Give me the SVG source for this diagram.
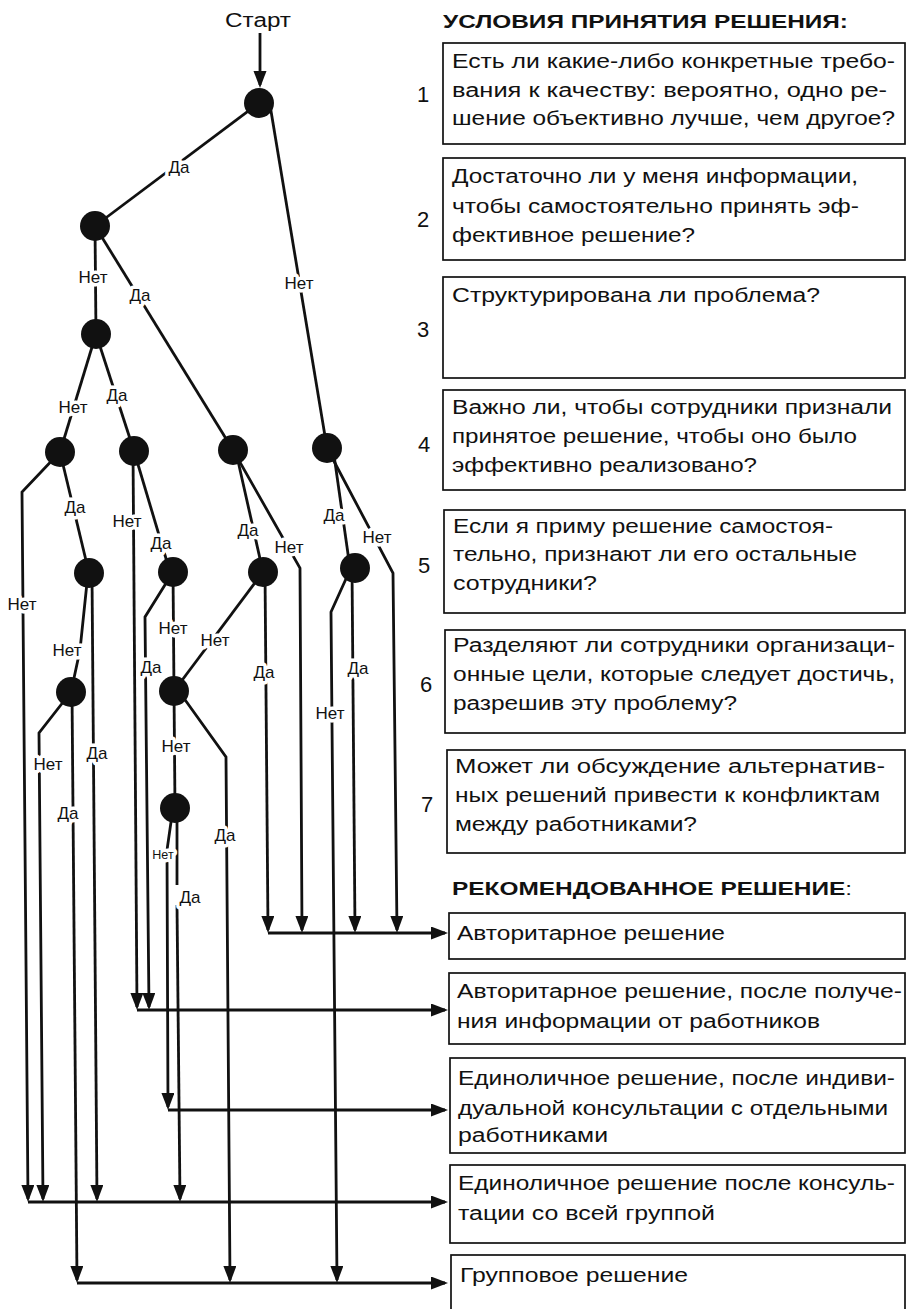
<svg xmlns="http://www.w3.org/2000/svg" width="907" height="1309" viewBox="0 0 907 1309">
<style>
.c{fill:none;stroke:#111;stroke-width:2.8;stroke-linejoin:miter}
.a{marker-end:url(#ah)}
.nd{fill:#111}
.lb{font-family:"Liberation Sans",Arial,sans-serif;font-size:17px;fill:#111;text-anchor:middle;stroke:#fff;stroke-width:7px;paint-order:stroke;stroke-linejoin:round}
.sm{font-size:12.5px}
.bx{fill:none;stroke:#111;stroke-width:1.7}
.t{font-family:"Liberation Sans",Arial,sans-serif;font-size:19.5px;fill:#111}
.h{font-family:"Liberation Sans",Arial,sans-serif;font-size:19px;font-weight:bold;fill:#111}
.num{font-family:"Liberation Sans",Arial,sans-serif;font-size:22px;fill:#111;text-anchor:middle}
.st{font-family:"Liberation Sans",Arial,sans-serif;font-size:20px;fill:#111;text-anchor:middle}
</style>
<defs>
<marker id="ah" markerUnits="userSpaceOnUse" markerWidth="18" markerHeight="14" refX="14" refY="6.5" orient="auto"><path d="M0,0 L17,6.5 L0,13 z" fill="#111"/></marker>
</defs>
<rect x="0" y="0" width="907" height="1309" fill="#fff"/>

<text class="st" x="258" y="27" textLength="66" lengthAdjust="spacingAndGlyphs">Старт</text>

<g id="connectors">
<path class="c a" d="M260,33 V85"/>
<path class="c" d="M259,103 L95,226"/>
<path class="c" d="M270,105 L327,448"/>
<path class="c" d="M95,226 L96,334"/>
<path class="c" d="M95,226 L233,450"/>
<path class="c" d="M96,334 L60,452"/>
<path class="c" d="M96,334 L134,451"/>
<path class="c a" d="M60,452 L22,492 L28,1199"/>
<path class="c" d="M60,452 L89,573"/>
<path class="c" d="M88,573 L80,650 L71,692"/>
<path class="c a" d="M92,575 L97,1199"/>
<path class="c a" d="M71,692 L39,733 L43,1199"/>
<path class="c a" d="M72,692 L77,1280"/>
<path class="c a" d="M133,451 L137,1007"/>
<path class="c" d="M134,451 L170,572"/>
<path class="c a" d="M173,572 L145,617 L149,1007"/>
<path class="c" d="M173,572 L174,691"/>
<path class="c" d="M236,452 L263,572"/>
<path class="c a" d="M233,450 L300,568 L302,930"/>
<path class="c" d="M263,572 L174,691"/>
<path class="c a" d="M265,572 L268,930"/>
<path class="c" d="M333,448 L350,568"/>
<path class="c a" d="M327,448 L393,573 L397,930"/>
<path class="c a" d="M350,570 L331,612 L337,1280"/>
<path class="c a" d="M352,568 L355,930"/>
<path class="c" d="M174,691 L175,808"/>
<path class="c a" d="M178,690 L226,757 L230,1280"/>
<path class="c a" d="M173,808 L167,850 L168,1107"/>
<path class="c" d="M177,808 V885"/>
<path class="c a" d="M177,905 L180,1199"/>

<path class="c a" d="M268,933 L445,933"/>
<path class="c a" d="M137,1010 L445,1010"/>
<path class="c a" d="M168,1110 L445,1110"/>
<path class="c a" d="M28,1202 L445,1202"/>
<path class="c a" d="M77,1283 L445,1283"/>

<text class="lb" x="179" y="173">Да</text>
<text class="lb" x="299" y="289">Нет</text>
<text class="lb" x="93" y="283">Нет</text>
<text class="lb" x="140" y="301">Да</text>
<text class="lb" x="73" y="413">Нет</text>
<text class="lb" x="117" y="401">Да</text>
<text class="lb" x="22" y="610">Нет</text>
<text class="lb" x="75" y="513">Да</text>
<text class="lb" x="67" y="656">Нет</text>
<text class="lb" x="97" y="759">Да</text>
<text class="lb" x="48" y="770">Нет</text>
<text class="lb" x="68" y="819">Да</text>
<text class="lb" x="127" y="527">Нет</text>
<text class="lb" x="161" y="549">Да</text>
<text class="lb" x="151" y="673">Да</text>
<text class="lb" x="173" y="634">Нет</text>
<text class="lb" x="215" y="646">Нет</text>
<text class="lb" x="264" y="678">Да</text>
<text class="lb" x="248" y="536">Да</text>
<text class="lb" x="289" y="553">Нет</text>
<text class="lb" x="334" y="521">Да</text>
<text class="lb" x="377" y="543">Нет</text>
<text class="lb" x="330" y="719">Нет</text>
<text class="lb" x="358" y="674">Да</text>
<text class="lb" x="176" y="752">Нет</text>
<text class="lb" x="225" y="841">Да</text>
<text class="lb sm" x="163" y="859">Нет</text>
<text class="lb" x="190" y="903">Да</text>
</g>

<g id="n1"><circle class="nd" cx="259" cy="103" r="15"/></g>
<g id="n2"><circle class="nd" cx="95" cy="226" r="15"/></g>
<g id="n3"><circle class="nd" cx="96" cy="334" r="15"/></g>
<g id="n4"><circle class="nd" cx="60" cy="452" r="15"/></g>
<g id="n5"><circle class="nd" cx="134" cy="451" r="15"/></g>
<g id="n6"><circle class="nd" cx="233" cy="450" r="15"/></g>
<g id="n7"><circle class="nd" cx="327" cy="448" r="15"/></g>
<g id="n8"><circle class="nd" cx="89" cy="573" r="15"/></g>
<g id="n10"><circle class="nd" cx="173" cy="572" r="15"/></g>
<g id="n12"><circle class="nd" cx="263" cy="572" r="15"/></g>
<g id="n14"><circle class="nd" cx="355" cy="568" r="15"/></g>
<g id="n9"><circle class="nd" cx="71" cy="692" r="15"/></g>
<g id="n11"><circle class="nd" cx="174" cy="691" r="15"/></g>
<g id="n13"><circle class="nd" cx="175" cy="808" r="15"/></g>

<text class="h" x="443" y="28" textLength="405" lengthAdjust="spacingAndGlyphs">УСЛОВИЯ ПРИНЯТИЯ РЕШЕНИЯ:</text>

<g id="cond1">
<text class="num" x="423" y="102">1</text>
<rect class="bx" x="443" y="43" width="462" height="101"/>
<text class="t" x="452" y="68" textLength="443" lengthAdjust="spacingAndGlyphs">Есть ли какие-либо конкретные требо-</text>
<text class="t" x="452" y="97" textLength="435" lengthAdjust="spacingAndGlyphs">вания к качеству: вероятно, одно ре-</text>
<text class="t" x="452" y="125" textLength="443" lengthAdjust="spacingAndGlyphs">шение объективно лучше, чем другое?</text>
</g>
<g id="cond2">
<text class="num" x="423" y="227">2</text>
<rect class="bx" x="443" y="158" width="462" height="102"/>
<text class="t" x="452" y="183" textLength="406" lengthAdjust="spacingAndGlyphs">Достаточно ли у меня информации,</text>
<text class="t" x="452" y="213" textLength="407" lengthAdjust="spacingAndGlyphs">чтобы самостоятельно принять эф-</text>
<text class="t" x="452" y="242" textLength="243" lengthAdjust="spacingAndGlyphs">фективное решение?</text>
</g>
<g id="cond3">
<text class="num" x="423" y="337">3</text>
<rect class="bx" x="443" y="277" width="462" height="101"/>
<text class="t" x="452" y="302" textLength="368" lengthAdjust="spacingAndGlyphs">Структурирована ли проблема?</text>
</g>
<g id="cond4">
<text class="num" x="424" y="452">4</text>
<rect class="bx" x="443" y="390" width="462" height="100"/>
<text class="t" x="452" y="414" textLength="440" lengthAdjust="spacingAndGlyphs">Важно ли, чтобы сотрудники признали</text>
<text class="t" x="452" y="443" textLength="405" lengthAdjust="spacingAndGlyphs">принятое решение, чтобы оно было</text>
<text class="t" x="452" y="472" textLength="305" lengthAdjust="spacingAndGlyphs">эффективно реализовано?</text>
</g>
<g id="cond5">
<text class="num" x="424" y="573">5</text>
<rect class="bx" x="444" y="510" width="461" height="103"/>
<text class="t" x="453" y="533" textLength="380" lengthAdjust="spacingAndGlyphs">Если я приму решение самостоя-</text>
<text class="t" x="453" y="561" textLength="404" lengthAdjust="spacingAndGlyphs">тельно, признают ли его остальные</text>
<text class="t" x="453" y="590" textLength="144" lengthAdjust="spacingAndGlyphs">сотрудники?</text>
</g>
<g id="cond6">
<text class="num" x="426" y="692">6</text>
<rect class="bx" x="445" y="630" width="460" height="103"/>
<text class="t" x="453" y="652" textLength="442" lengthAdjust="spacingAndGlyphs">Разделяют ли сотрудники организаци-</text>
<text class="t" x="453" y="681" textLength="442" lengthAdjust="spacingAndGlyphs">онные цели, которые следует достичь,</text>
<text class="t" x="453" y="710" textLength="284" lengthAdjust="spacingAndGlyphs">разрешив эту проблему?</text>
</g>
<g id="cond7">
<text class="num" x="427" y="812">7</text>
<rect class="bx" x="447" y="750" width="458" height="103"/>
<text class="t" x="455" y="773" textLength="430" lengthAdjust="spacingAndGlyphs">Может ли обсуждение альтернатив-</text>
<text class="t" x="455" y="802" textLength="425" lengthAdjust="spacingAndGlyphs">ных решений привести к конфликтам</text>
<text class="t" x="455" y="831" textLength="242" lengthAdjust="spacingAndGlyphs">между работниками?</text>
</g>

<text class="h" x="452" y="895" textLength="400" lengthAdjust="spacingAndGlyphs">РЕКОМЕНДОВАННОЕ РЕШЕНИЕ<tspan font-weight="normal">:</tspan></text>

<g id="out1">
<rect class="bx" x="449" y="913" width="456" height="46"/>
<text class="t" x="457" y="940" textLength="268" lengthAdjust="spacingAndGlyphs">Авторитарное решение</text>
</g>
<g id="out2">
<rect class="bx" x="449" y="973" width="456" height="71"/>
<text class="t" x="457" y="998" textLength="445" lengthAdjust="spacingAndGlyphs">Авторитарное решение, после получе-</text>
<text class="t" x="457" y="1028" textLength="363" lengthAdjust="spacingAndGlyphs">ния информации от работников</text>
</g>
<g id="out3">
<rect class="bx" x="450" y="1058" width="455" height="95"/>
<text class="t" x="458" y="1085" textLength="437" lengthAdjust="spacingAndGlyphs">Единоличное решение, после индиви-</text>
<text class="t" x="458" y="1115" textLength="430" lengthAdjust="spacingAndGlyphs">дуальной консультации с отдельными</text>
<text class="t" x="458" y="1142" textLength="150" lengthAdjust="spacingAndGlyphs">работниками</text>
</g>
<g id="out4">
<rect class="bx" x="450" y="1165" width="455" height="78"/>
<text class="t" x="458" y="1190" textLength="437" lengthAdjust="spacingAndGlyphs">Единоличное решение после консуль-</text>
<text class="t" x="458" y="1220" textLength="257" lengthAdjust="spacingAndGlyphs">тации со всей группой</text>
</g>
<g id="out5">
<rect class="bx" x="451" y="1255" width="454" height="70"/>
<text class="t" x="460" y="1282" textLength="228" lengthAdjust="spacingAndGlyphs">Групповое решение</text>
</g>
</svg>
